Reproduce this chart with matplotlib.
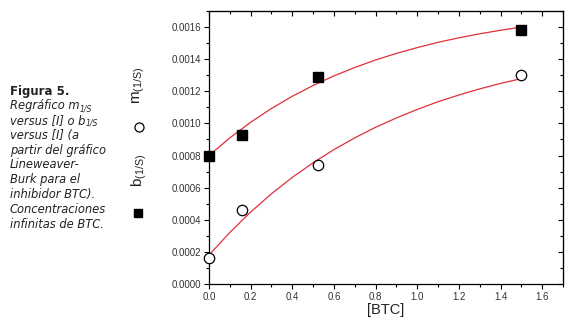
import matplotlib.pyplot as plt
from matplotlib.ticker import MultipleLocator, FormatStrFormatter

# ---------- data ----------
btc = [0.0, 0.16, 0.525, 1.5]
b_vals = [0.00080, 0.00093, 0.00129, 0.00158]   # filled squares
m_vals = [0.00016, 0.00046, 0.00074, 0.00130]   # open circles

# fitted curves
fit_x = [0.0, 0.1, 0.2, 0.3, 0.4, 0.5, 0.6, 0.7, 0.8, 0.9, 1.0, 1.1, 1.2, 1.3, 1.4, 1.5]
fit_b = [0.000800, 0.000910, 0.001007, 0.001093, 0.001169, 0.001236, 0.001296, 0.001348,
         0.001395, 0.001436, 0.001472, 0.001505, 0.001533, 0.001558, 0.001580, 0.001600]
fit_m = [0.000180, 0.000321, 0.000448, 0.000562, 0.000664, 0.000755, 0.000837, 0.000910,
         0.000976, 0.001034, 0.001087, 0.001135, 0.001177, 0.001215, 0.001249, 0.001279]

# caption lines: (text, subscript or None)
caption = [
    ("Regráfico m", "1/S"),
    ("versus [I] o b", "1/S"),
    ("versus [I] (a", None),
    ("partir del gráfico", None),
    ("Lineweaver-", None),
    ("Burk para el", None),
    ("inhibidor BTC).", None),
    ("Concentraciones", None),
    ("infinitas de BTC.", None),
]

plt.rcParams['mathtext.fontset'] = 'custom'
plt.rcParams['mathtext.rm'] = 'Liberation Sans'

fig = plt.figure(figsize=(5.71, 3.35), dpi=100)
ax = fig.add_axes([209 / 571, 51 / 335, 354 / 571, 273 / 335])

line_red = '#e0303a'
ax.plot(fit_x, fit_b, color=line_red, lw=0.9, zorder=2)
ax.plot(fit_x, fit_m, color=line_red, lw=0.9, zorder=2)
ax.plot(btc, b_vals, 's', color='black', ms=7, zorder=3, clip_on=False)
ax.plot(btc, m_vals, 'o', mfc='white', mec='black', mew=0.9, ms=7.5, zorder=3, clip_on=False)

ax.set_xlim(0, 1.7)
ax.set_ylim(0, 0.0017)
ax.xaxis.set_major_locator(MultipleLocator(0.2))
ax.xaxis.set_minor_locator(MultipleLocator(0.1))
ax.yaxis.set_major_locator(MultipleLocator(0.0002))
ax.yaxis.set_minor_locator(MultipleLocator(0.0001))
ax.xaxis.set_major_formatter(FormatStrFormatter('%.1f'))
ax.yaxis.set_major_formatter(FormatStrFormatter('%.4f'))

tick_font = 'Liberation Sans'
ax.tick_params(which='major', direction='out', length=3.5, width=0.8, labelsize=7, pad=2)
ax.tick_params(which='minor', direction='out', length=2, width=0.8)
for lab in ax.get_xticklabels() + ax.get_yticklabels():
    lab.set_fontfamily(tick_font)
    lab.set_color('#333333')

# inward ticks on top and right
top = ax.secondary_xaxis('top')
top.xaxis.set_major_locator(MultipleLocator(0.2))
top.xaxis.set_minor_locator(MultipleLocator(0.1))
top.tick_params(which='major', direction='in', length=3.5, width=0.8, labeltop=False)
top.tick_params(which='minor', direction='in', length=2, width=0.8)
right = ax.secondary_yaxis('right')
right.yaxis.set_major_locator(MultipleLocator(0.0002))
right.yaxis.set_minor_locator(MultipleLocator(0.0001))
right.tick_params(which='major', direction='in', length=3.5, width=0.8, labelright=False)
right.tick_params(which='minor', direction='in', length=2, width=0.8)

for sp in ax.spines.values():
    sp.set_linewidth(0.9)

ax.set_xlabel('[BTC]', fontsize=10.5, fontfamily=tick_font, color='#222222', labelpad=1)

# rotated legend-like y labels
fig.text(139 / 571, 1 - 85 / 335, r'$\mathrm{m}_{\mathrm{(1/S)}}$', rotation=90, fontsize=11,
         ha='center', va='center', color='#222222')
fig.text(139 / 571, 1 - 170 / 335, r'$\mathrm{b}_{\mathrm{(1/S)}}$', rotation=90, fontsize=11,
         ha='center', va='center', color='#222222')
fig.lines.append(plt.Line2D([139 / 571], [1 - 127 / 335], marker='o', mfc='white', mec='black',
                            mew=0.9, ms=6.5, transform=fig.transFigure, linestyle='none'))
fig.lines.append(plt.Line2D([138 / 571], [1 - 213 / 335], marker='s', color='black',
                            ms=6, transform=fig.transFigure, linestyle='none'))

# caption on the left
fig.text(10 / 571, 1 - 91 / 335, 'Figura 5.', fontsize=8.5, fontweight='bold',
         ha='left', va='center', color='#222222')
renderer = fig.canvas.get_renderer()
for i, (line, sub) in enumerate(caption):
    y = 1 - (106 + 14.75 * i) / 335
    t = fig.text(10 / 571, y, line, fontsize=8.3, fontstyle='italic',
                 ha='left', va='center', color='#222222')
    if sub:
        x_end = t.get_window_extent(renderer).x1 / fig.bbox.width
        fig.text(x_end + 0.5 / 571, y - 2.5 / 335, sub, fontsize=5.5, fontstyle='italic',
                 ha='left', va='center', color='#222222')

fig.savefig('out.png', dpi=100)
